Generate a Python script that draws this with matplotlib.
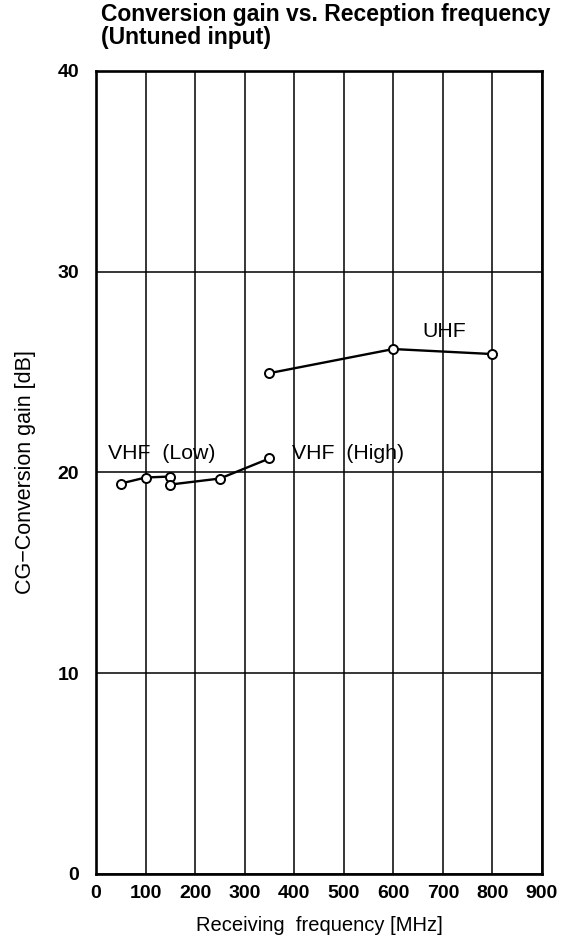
import matplotlib.pyplot as plt

plt.rcParams['font.family'] = ['Liberation Sans', 'DejaVu Sans']

# Receiving frequency [MHz] and conversion gain [dB]
vhf_low_f = [50, 100, 150]
vhf_low_g = [19.45, 19.75, 19.8]
vhf_high_f = [150, 250, 350]
vhf_high_g = [19.4, 19.7, 20.7]
uhf_f = [350, 600, 800]
uhf_g = [24.95, 26.15, 25.9]

x_ticks = [0, 100, 200, 300, 400, 500, 600, 700, 800, 900]
y_ticks = [0, 10, 20, 30, 40]

fig = plt.figure(figsize=(5.61, 9.52), dpi=100)
ax = fig.add_axes([96 / 561, 1 - 874 / 952, 446 / 561, 803 / 952])

ax.set_xlim(0, 900)
ax.set_ylim(0, 40)
ax.set_xticks(x_ticks)
ax.set_yticks(y_ticks)
ax.grid(True, color='black', linewidth=1.1)
ax.set_axisbelow(True)
ax.tick_params(length=0, labelsize=14)
ax.tick_params(axis='x', pad=8)
ax.tick_params(axis='y', pad=12)
for lab in ax.get_xticklabels() + ax.get_yticklabels():
    lab.set_fontweight('bold')
for s in ax.spines.values():
    s.set_linewidth(1.9)

for f, g in [(vhf_low_f, vhf_low_g), (vhf_high_f, vhf_high_g), (uhf_f, uhf_g)]:
    ax.plot(f, g, color='black', linewidth=1.7, marker='o', markersize=6.5,
            markerfacecolor='white', markeredgecolor='black', markeredgewidth=1.4,
            zorder=3)

ax.text(24, 20.95, 'VHF  (Low)', fontsize=15.3, va='center', ha='left')
ax.text(395, 20.95, 'VHF  (High)', fontsize=15.3, va='center', ha='left')
ax.text(703, 27.0, 'UHF', fontsize=15.3, va='center', ha='center')

ax.set_xlabel('Receiving  frequency [MHz]', fontsize=14.5, labelpad=10)
ax.set_ylabel('CG\u2212Conversion gain [dB]', fontsize=15.5)
ax.yaxis.set_label_coords(-0.135, 0.5)

fig.text(101 / 561, 1 - 3 / 952,
         'Conversion gain vs. Reception frequency\n(Untuned input)',
         fontsize=16.5, fontweight='bold', ha='left', va='top', linespacing=1.0)

fig.savefig('out.png', dpi=100)
